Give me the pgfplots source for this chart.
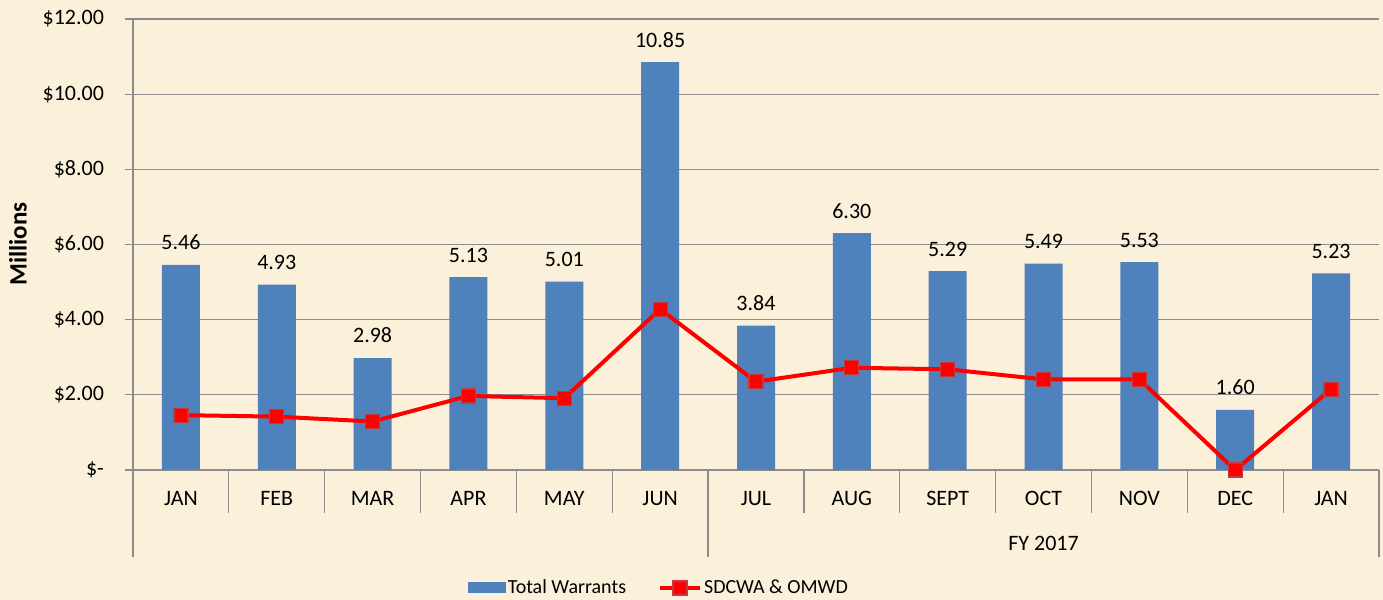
\documentclass[border=0pt]{standalone}
\usepackage{pgfplots}
\pgfplotsset{compat=1.18}
\usepackage{fontspec}
\setmainfont{Carlito}
\definecolor{bg}{RGB}{251,241,218}
\definecolor{barblue}{RGB}{79,129,189}
\definecolor{gridgray}{RGB}{140,140,140}
\definecolor{mkred}{RGB}{190,60,60}
\begin{document}
\begin{tikzpicture}[font=\fontsize{10}{12}\selectfont]
\fill[bg] (0,0) rectangle (691.5pt,300pt);
\begin{axis}[
  at={(66.5pt,65pt)}, anchor=south west,
  scale only axis, width=623pt, height=225.5pt,
  xmin=-0.5, xmax=12.5, ymin=0, ymax=12,
  clip=false,
  axis x line*=bottom, axis y line*=left,
  axis line style={gridgray, line width=0.6pt},
  /pgf/number format/assume math mode=true,
  tick label style={font=\fontsize{11}{13}\selectfont},
  ytick={0,2,4,6,8,10,12},
  yticklabels={\$-\hspace{4pt},\$2.00,\$4.00,\$6.00,\$8.00,\$10.00,\$12.00},
  yticklabel style={xshift=-7pt},
  ymajorgrids, grid style={gridgray, line width=0.6pt},
  tick align=outside, major tick length=4pt,
  ytick style={gridgray, line width=0.6pt},
  xtick={0,1,2,3,4,5,6,7,8,9,10,11,12},
  xticklabels={JAN,FEB,MAR,APR,MAY,JUN,JUL,AUG,SEPT,OCT,NOV,DEC,JAN},
  xtick style={draw=none},
  xticklabel style={anchor=base, yshift=-13.5pt},
  ylabel={Millions},
  ylabel style={at={(axis description cs:-0.0923,0.501)}, anchor=center, font=\bfseries\fontsize{12.5}{14}\selectfont},
  legend columns=2,
  legend style={at={(axis description cs:0.422,-0.2616)}, anchor=center, draw=none, fill=none,
    font=\fontsize{10}{12}\selectfont,
    /tikz/every even column/.append style={column sep=15pt},
    nodes={inner sep=1pt}},
]
\addplot[ybar, bar width=19pt, fill=barblue, draw=none,
  nodes near coords={\pgfmathprintnumber[fixed,fixed zerofill,precision=2]{\pgfplotspointmeta}},
  every node near coord/.append style={anchor=base, yshift=7.5pt, text=black, font=\fontsize{11}{13}\selectfont},
  legend image code/.code={\fill[barblue] (0pt,-2.75pt) rectangle (19pt,2.75pt);}]
coordinates {(0,5.46) (1,4.93) (2,2.98) (3,5.13) (4,5.01) (5,10.85) (6,3.84) (7,6.30) (8,5.29) (9,5.49) (10,5.53) (11,1.60) (12,5.23)};
\addlegendentry{Total Warrants}
\addplot[red, line width=2pt, mark=square*, mark size=3.5pt,
  mark options={fill=red, draw=mkred, line width=0.6pt},
  legend image code/.code={\draw[red, line width=2pt] (0pt,0pt) -- (20pt,0pt); \node[fill=red, draw=mkred, line width=0.6pt, minimum size=7pt, inner sep=0pt] at (10pt,0pt) {};}]
coordinates {(0,1.46) (1,1.42) (2,1.29) (3,1.97) (4,1.91) (5,4.28) (6,2.35) (7,2.72) (8,2.68) (9,2.41) (10,2.41) (11,0) (12,2.15)};
\addlegendentry{SDCWA \& OMWD}
\pgfplotsinvokeforeach{0.5,1.5,2.5,3.5,4.5,6.5,7.5,8.5,9.5,10.5,11.5}{
  \draw[gridgray, line width=0.6pt] (axis cs:#1,0) -- ++(0pt,-21.5pt);
}
\pgfplotsinvokeforeach{-0.5,5.5,12.5}{
  \draw[gridgray, line width=0.6pt] (axis cs:#1,0) -- ++(0pt,-43.5pt);
}
\node[anchor=base, yshift=-40.5pt, font=\fontsize{11}{13}\selectfont] at (axis cs:9,0) {FY 2017};
\end{axis}
\pgfresetboundingbox
\useasboundingbox (0,0) rectangle (691.5pt,300pt);
\end{tikzpicture}
\end{document}
